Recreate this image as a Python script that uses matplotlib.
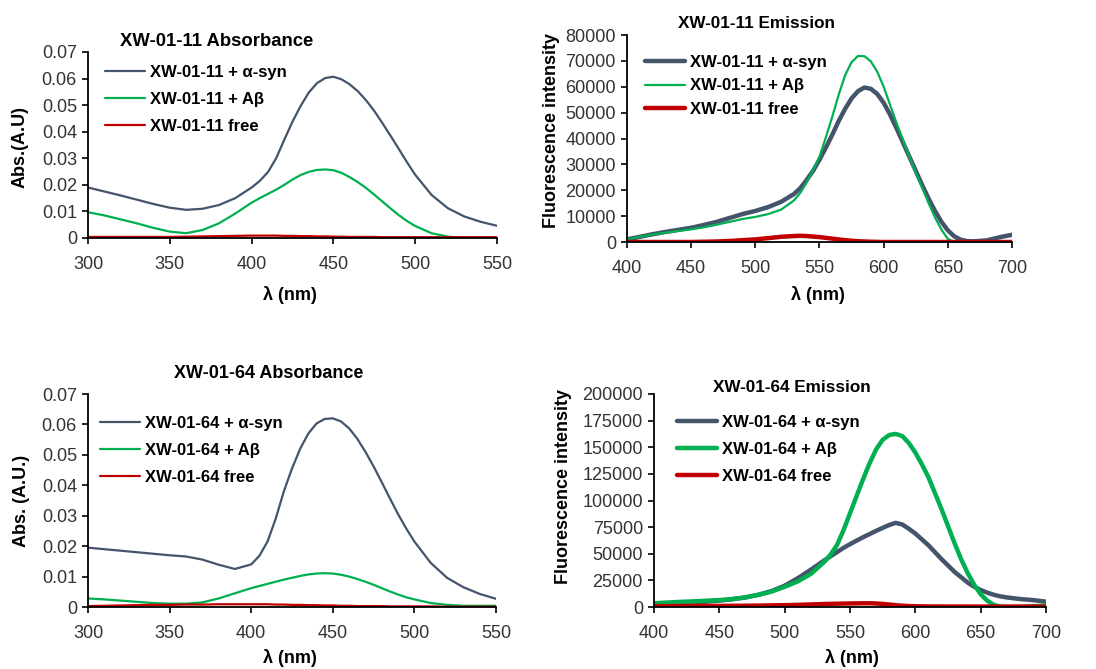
import matplotlib
matplotlib.use('Agg')
import matplotlib.pyplot as plt
import numpy as np

# wavelength grids (denser around the bands)
abs_nm = list(range(300, 401, 10)) + list(range(405, 501, 5)) + list(range(510, 551, 10))
em_nm = list(range(400, 521, 10)) + list(range(530, 671, 5)) + [680, 690, 700]

# XW-01-11 absorbance
abs11_syn = [0.0190, 0.0175, 0.0160, 0.0144, 0.0128, 0.0114, 0.0106, 0.0110, 0.0124, 0.0150, 0.0190,
             0.0215, 0.0248, 0.0300, 0.0370, 0.0438, 0.0497, 0.0548, 0.0583, 0.0602, 0.0607,
             0.0597, 0.0578, 0.0552, 0.0518, 0.0478, 0.0432, 0.0384, 0.0335, 0.0285, 0.0238,
             0.0162, 0.0112, 0.0081, 0.0061, 0.0046]
abs11_ab = [0.0097, 0.0085, 0.0070, 0.0055, 0.0038, 0.0024, 0.0018, 0.0030, 0.0055, 0.0092, 0.0133,
            0.0150, 0.0166, 0.0182, 0.0200, 0.0220, 0.0237, 0.0249, 0.0256, 0.0258, 0.0255,
            0.0245, 0.0229, 0.0210, 0.0188, 0.0163, 0.0137, 0.0111, 0.0086, 0.0064, 0.0045,
            0.0018, 0.0005, 0.0000, 0.0000, 0.0000]
abs11_free = [0.0004, 0.0004, 0.0004, 0.0004, 0.0004, 0.0004, 0.0005, 0.0006, 0.0007, 0.0008, 0.0009,
              0.0009, 0.0009, 0.0009, 0.0008, 0.0008, 0.0007, 0.0007, 0.0006, 0.0006, 0.0005,
              0.0005, 0.0004, 0.0004, 0.0004, 0.0004, 0.0003, 0.0003, 0.0003, 0.0003, 0.0003,
              0.0003, 0.0003, 0.0003, 0.0003, 0.0003]

# XW-01-11 emission
em11_syn = [1000, 2000, 3000, 3900, 4700, 5500, 6600, 7800, 9300, 10800, 12000, 13500, 15500,
            18500, 20800, 24000, 27500, 31800, 36500, 41500, 46800, 51500, 55500, 58300, 59700,
            59200, 57200, 53800, 49200, 44000, 38500, 33000, 27500, 22000, 16800, 12000, 7800,
            4500, 2200, 900, 350, 250,
            600, 1800, 2800]
em11_ab = [1000, 2000, 2900, 3600, 4300, 4900, 5700, 6700, 7800, 8900, 9700, 10800, 12500,
           16000, 19000, 23000, 27800, 33000, 40500, 48500, 57000, 64500, 69500, 71900, 71800,
           69800, 65800, 60000, 53000, 46000, 39500, 33000, 26800, 21000, 15000, 9500, 4800,
           1200, 0, 0, 0, 0,
           0, 0, 0]
em11_free = [0, 0, 0, 0, 0, 0, 100, 200, 400, 700, 1000, 1500, 2000,
             2300, 2400, 2300, 2100, 1900, 1600, 1300, 1000, 700, 500, 300, 200,
             100, 50, 0, 0, 0, 0, 0, 0, 0, 0, 0, 0,
             0, 0, 0, 0, 0,
             0, 0, 0]

# XW-01-64 absorbance
abs64_syn = [0.0195, 0.0190, 0.0185, 0.0180, 0.0175, 0.0170, 0.0166, 0.0156, 0.0139, 0.0125, 0.0140,
             0.0168, 0.0215, 0.0290, 0.0380, 0.0455, 0.0520, 0.0570, 0.0603, 0.0618, 0.0620,
             0.0610, 0.0587, 0.0553, 0.0510, 0.0462, 0.0410, 0.0357, 0.0305, 0.0258, 0.0215,
             0.0145, 0.0096, 0.0065, 0.0043, 0.0027]
abs64_ab = [0.0028, 0.0025, 0.0021, 0.0017, 0.0013, 0.0011, 0.0011, 0.0015, 0.0028, 0.0045, 0.0062,
            0.0069, 0.0076, 0.0083, 0.0090, 0.0096, 0.0102, 0.0107, 0.0110, 0.0111, 0.0110,
            0.0106, 0.0100, 0.0092, 0.0083, 0.0073, 0.0062, 0.0051, 0.0041, 0.0032, 0.0025,
            0.0013, 0.0007, 0.0004, 0.0004, 0.0004]
abs64_free = [0.0003, 0.0004, 0.0005, 0.0006, 0.0007, 0.0007, 0.0008, 0.0008, 0.0009, 0.0009, 0.0009,
              0.0009, 0.0009, 0.0008, 0.0008, 0.0007, 0.0007, 0.0006, 0.0006, 0.0005, 0.0005,
              0.0004, 0.0004, 0.0003, 0.0003, 0.0003, 0.0003, 0.0002, 0.0002, 0.0002, 0.0002,
              0.0002, 0.0001, 0.0001, 0.0001, 0.0001]

# XW-01-64 emission
em64_syn = [2500, 3000, 3600, 4300, 5000, 6000, 7300, 9000, 11500, 15000, 20000, 27000, 35000,
            43500, 47500, 51500, 55500, 59000, 62300, 65500, 68500, 71500, 74300, 77000, 79000,
            77500, 73500, 69000, 63500, 58000, 51500, 45000, 39000, 33000, 28000, 23000, 19000,
            16000, 13500, 11500, 10000, 9000,
            7500, 6500, 5000]
em64_ab = [3500, 4200, 4800, 5300, 5900, 6500, 7500, 9000, 11500, 14500, 19000, 24000, 31000,
           42000, 49000, 58000, 72000, 88000, 104000, 120000, 135000, 148000, 157000, 161500, 162500,
           160500, 154000, 145000, 134000, 122000, 107000, 92000, 76000, 60000, 45000, 32000, 21000,
           12000, 6000, 2000, 300, 0,
           0, 500, 1500]
em64_free = [800, 800, 900, 900, 1000, 1000, 1100, 1200, 1300, 1500, 1700, 2000, 2400,
             2800, 2950, 3100, 3200, 3300, 3400, 3500, 3500, 3300, 2900, 2300, 1700,
             1200, 900, 700, 600, 500, 500, 500, 450, 450, 450, 450, 400,
             400, 400, 400, 400, 400,
             400, 400, 400]

c_syn = '#44546a'
c_ab = '#00b050'
c_free = '#c00000'

plt.rcParams['font.family'] = ['Liberation Sans', 'DejaVu Sans']

W, H = 1096, 669
fig = plt.figure(figsize=(W / 100, H / 100), dpi=100)


def fx(x):
    return x / W


def fy(y):
    return 1 - y / H


def panel(l, t, r, b, x, ys, lws, labels, xlim, ylim, ystep,
          title, title_xy, title_size, ylabel, ylabel_xy, xlabel_xy, leg_xy, leg_gap):
    ax = fig.add_axes([fx(l), fy(b), (r - l) / W, (b - t) / H])
    for y, c, lw, lab in zip(ys, [c_syn, c_ab, c_free], lws, labels):
        ax.plot(x, y, color=c, lw=lw, label=lab, solid_capstyle='round', solid_joinstyle='round')
    ax.set_xlim(*xlim)
    ax.set_ylim(*ylim)
    ax.set_xticks(np.arange(xlim[0], xlim[1] + 1, 50))
    ax.set_yticks(np.arange(0, ylim[1] + ystep / 2, ystep))
    ax.yaxis.set_major_formatter(plt.FuncFormatter(lambda v, p: '{:g}'.format(round(v, 6))))
    for s in ['top', 'right']:
        ax.spines[s].set_visible(False)
    for s in ['left', 'bottom']:
        ax.spines[s].set_linewidth(1.3)
    ax.tick_params(direction='out', length=4, width=1.2, labelsize=13,
                   labelcolor='#333333')
    ax.tick_params(axis='x', pad=9)
    ax.tick_params(axis='y', pad=4)
    fig.text(fx(title_xy[0]), fy(title_xy[1]), title, ha='center', va='center',
             fontsize=title_size, fontweight='bold')
    fig.text(fx(ylabel_xy[0]), fy(ylabel_xy[1]), ylabel, ha='center', va='center',
             rotation=90, fontsize=13, fontweight='bold')
    fig.text(fx(xlabel_xy[0]), fy(xlabel_xy[1]), 'λ (nm)', ha='center', va='center',
             fontsize=13, fontweight='bold')
    ax.legend(loc='upper left', bbox_to_anchor=(fx(leg_xy[0]), fy(leg_xy[1])),
              bbox_transform=fig.transFigure, frameon=False,
              prop={'weight': 'bold', 'size': 12}, handlelength=2.4,
              handletextpad=0.3, labelspacing=leg_gap, borderpad=0, borderaxespad=0)
    return ax


panel(88, 52, 497, 238, abs_nm, [abs11_syn, abs11_ab, abs11_free], [1.6, 1.6, 1.6],
      ['XW-01-11 + α-syn', 'XW-01-11 + Aβ', 'XW-01-11 free'],
      (300, 550), (0, 0.07), 0.01,
      'XW-01-11 Absorbance', (217, 42), 13.3, 'Abs.(A.U)', (20, 147), (290, 295),
      (105, 65), 0.71)

panel(627, 35, 1012, 242, em_nm, [em11_syn, em11_ab, em11_free], [3.2, 1.6, 3.2],
      ['XW-01-11 + α-syn', 'XW-01-11 + Aβ', 'XW-01-11 free'],
      (400, 700), (0, 80000), 10000,
      'XW-01-11 Emission', (756, 23), 12.3, 'Fluorescence intensity', (551, 131), (818, 295),
      (645, 55), 0.5)

panel(88, 394, 496, 607, abs_nm, [abs64_syn, abs64_ab, abs64_free], [1.6, 1.6, 1.6],
      ['XW-01-64 + α-syn', 'XW-01-64 + Aβ', 'XW-01-64 free'],
      (300, 550), (0, 0.07), 0.01,
      'XW-01-64 Absorbance', (269, 374), 13, 'Abs. (A.U.)', (22, 501), (290, 658),
      (100, 416), 0.72)

panel(654, 394, 1046, 607, em_nm, [em64_syn, em64_ab, em64_free], [3.2, 3.2, 3.2],
      ['XW-01-64 + α-syn', 'XW-01-64 + Aβ', 'XW-01-64 free'],
      (400, 700), (0, 200000), 25000,
      'XW-01-64 Emission', (792, 387), 12.3, 'Fluorescence intensity', (563, 486), (852, 658),
      (677, 415), 0.72)

fig.savefig('out.png', dpi=100)
